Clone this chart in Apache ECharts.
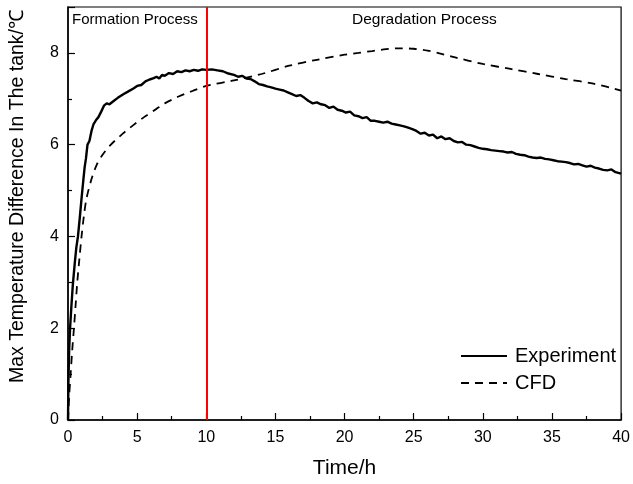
<!DOCTYPE html>
<html><head><meta charset="utf-8">
<script src="https://cdn.jsdelivr.net/npm/echarts@6/dist/echarts.min.js"></script>
<style>html,body{margin:0;padding:0;background:#fff}#c{width:633px;height:484px}</style>
</head><body><div id="c"></div>
<script>
const xTicks = [0, 5, 10, 15, 20, 25, 30, 35, 40];
const yTicks = [0, 2, 4, 6, 8];
const phaseBoundary = 10;
const phaseLabels = ['Formation Process', 'Degradation Process'];
const seriesNames = ['Experiment', 'CFD'];

const expTime = [0,0.03,0.08,0.15,0.25,0.35,0.5,0.6,0.72,0.85,0.98,1.1,1.2,1.3,1.41,1.55,1.7,1.85,1.95,2.06,2.2,2.4,2.6,2.8,3.0,3.3,3.6,4.0,4.3,4.7,5.0,5.3,5.6,5.9,6.2,6.4,6.6,6.8,7.0,7.3,7.6,7.9,8.2,8.5,8.8,9.1,9.4,9.7,10,10.4,10.8,11.2,11.6,12,12.3,12.6,12.9,13.2,13.5,13.8,14.1,14.4,14.7,15,15.3,15.6,15.9,16.2,16.5,16.8,17.1,17.4,17.7,18.0,18.3,18.6,18.9,19.2,19.5,19.8,20.1,20.4,20.7,21.0,21.3,21.6,21.9,22.2,22.5,22.8,23.1,23.4,23.7,24.0,24.3,24.6,24.9,25.2,25.5,25.8,26.1,26.4,26.7,27,27.3,27.6,27.9,28.2,28.5,28.8,29.1,29.4,29.7,30,30.3,30.6,30.9,31.2,31.5,31.8,32.1,32.4,32.7,33.0,33.3,33.6,33.9,34.2,34.5,34.8,35.1,35.4,35.7,36.0,36.3,36.6,36.9,37.2,37.5,37.8,38.1,38.4,38.7,39.0,39.3,39.6,40];
const expTemp = [0,0.8,1.5,2.0,2.5,2.95,3.45,3.75,4.0,4.4,4.83,5.2,5.5,5.7,6.0,6.08,6.3,6.45,6.42,6.55,6.6,6.72,6.85,6.9,6.88,6.95,7.02,7.1,7.15,7.22,7.28,7.3,7.38,7.42,7.45,7.48,7.44,7.52,7.5,7.56,7.54,7.6,7.58,7.62,7.6,7.63,7.61,7.64,7.63,7.64,7.62,7.6,7.55,7.52,7.48,7.5,7.44,7.43,7.38,7.32,7.3,7.27,7.25,7.22,7.2,7.18,7.14,7.1,7.06,7.08,7.02,6.95,6.9,6.92,6.88,6.86,6.8,6.83,6.76,6.74,6.7,6.72,6.64,6.62,6.58,6.6,6.52,6.52,6.5,6.48,6.5,6.46,6.44,6.42,6.4,6.37,6.34,6.3,6.24,6.26,6.2,6.22,6.14,6.18,6.12,6.14,6.08,6.05,6.06,6.0,5.99,5.96,5.93,5.91,5.9,5.88,5.87,5.86,5.85,5.83,5.84,5.8,5.78,5.77,5.74,5.72,5.71,5.72,5.69,5.68,5.66,5.64,5.63,5.62,5.6,5.57,5.58,5.55,5.52,5.54,5.5,5.48,5.45,5.44,5.46,5.4,5.37];

const cfdTime = [0,0.08,0.19,0.3,0.43,0.55,0.67,0.82,0.98,1.15,1.34,1.7,2.06,2.5,3.1,4,4.7,5.5,6.4,7,8,9,10,12,14,16,18,20,21,22,23,24,25,26,27,28,30,32,34,36,38,40];
const cfdTemp = [0,0.5,1.0,1.5,2.0,2.5,3.0,3.5,4.0,4.45,4.83,5.25,5.55,5.78,6,6.25,6.42,6.6,6.78,6.9,7.05,7.17,7.28,7.4,7.54,7.72,7.85,7.96,8.0,8.04,8.08,8.1,8.09,8.05,7.98,7.9,7.76,7.65,7.54,7.43,7.33,7.18];

const FONT = '"Liberation Sans", Arial, sans-serif';
const chart = echarts.init(document.getElementById('c'), null, {renderer: 'canvas'});
const zip = (a, b) => a.map((v, i) => [v, b[i]]);

chart.setOption({
  animation: false,
  backgroundColor: '#fff',
  textStyle: {fontFamily: FONT, color: '#000'},
  grid: {left: 68, right: 9, top: 7, bottom: 62, show: true, borderColor: '#000', borderWidth: 1.2, backgroundColor: 'transparent'},
  legend: {
    orient: 'vertical', left: 455, top: 341, itemWidth: 46, itemHeight: 14, itemGap: 7,
    itemStyle: {opacity: 0},
    textStyle: {fontSize: 20, fontFamily: FONT, color: '#000', padding: [0, 0, 0, 3]},
    data: seriesNames
  },
  xAxis: {
    type: 'value', min: xTicks[0], max: xTicks[xTicks.length - 1], interval: 5,
    name: 'Time/h', nameLocation: 'middle', nameGap: 38,
    nameTextStyle: {fontSize: 21, fontFamily: FONT, color: '#000'},
    axisLine: {lineStyle: {color: '#000', width: 1.5}},
    axisTick: {inside: true, length: 7, lineStyle: {color: '#000', width: 1.2}},
    minorTick: {show: true, splitNumber: 2, length: 4, lineStyle: {color: '#000', width: 1.2}},
    axisLabel: {fontSize: 16, color: '#000', margin: 10, fontFamily: FONT},
    splitLine: {show: false}
  },
  yAxis: {
    type: 'value', min: 0, max: 9, interval: 2,
    name: 'Max Temperature Difference In The tank/℃', nameLocation: 'middle', nameGap: 40,
    nameTextStyle: {fontSize: 19.5, fontFamily: FONT, color: '#000', padding: [0, 0, 0, 34]},
    axisLine: {lineStyle: {color: '#000', width: 1.5}},
    axisTick: {inside: true, length: 7, lineStyle: {color: '#000', width: 1.2}},
    minorTick: {show: true, splitNumber: 2, length: 4, lineStyle: {color: '#000', width: 1.2}},
    axisLabel: {fontSize: 16, color: '#000', margin: 9, fontFamily: FONT,
      formatter: v => yTicks.indexOf(v) >= 0 ? String(v) : ''},
    splitLine: {show: false}
  },
  graphic: [
    {type: 'text', left: 72, top: 12, style: {text: phaseLabels[0], font: '15px ' + FONT, fill: '#000'}},
    {type: 'text', left: 352, top: 12, style: {text: phaseLabels[1], font: '15.5px ' + FONT, fill: '#000'}}
  ],
  series: [
    {
      name: seriesNames[0], type: 'line', data: zip(expTime, expTemp), showSymbol: false, symbol: 'none',
      lineStyle: {color: '#000', width: 2.4}, itemStyle: {color: '#000'},
      markLine: {
        silent: true, symbol: 'none', label: {show: false},
        lineStyle: {color: '#ff0000', width: 2, type: 'solid'},
        data: [{xAxis: phaseBoundary}]
      }
    },
    {
      name: seriesNames[1], type: 'line', data: zip(cfdTime, cfdTemp), showSymbol: false, symbol: 'none', smooth: 0.3,
      lineStyle: {color: '#000', width: 1.8, type: [8, 6]}, itemStyle: {color: '#000'}
    }
  ]
});
</script></body></html>
